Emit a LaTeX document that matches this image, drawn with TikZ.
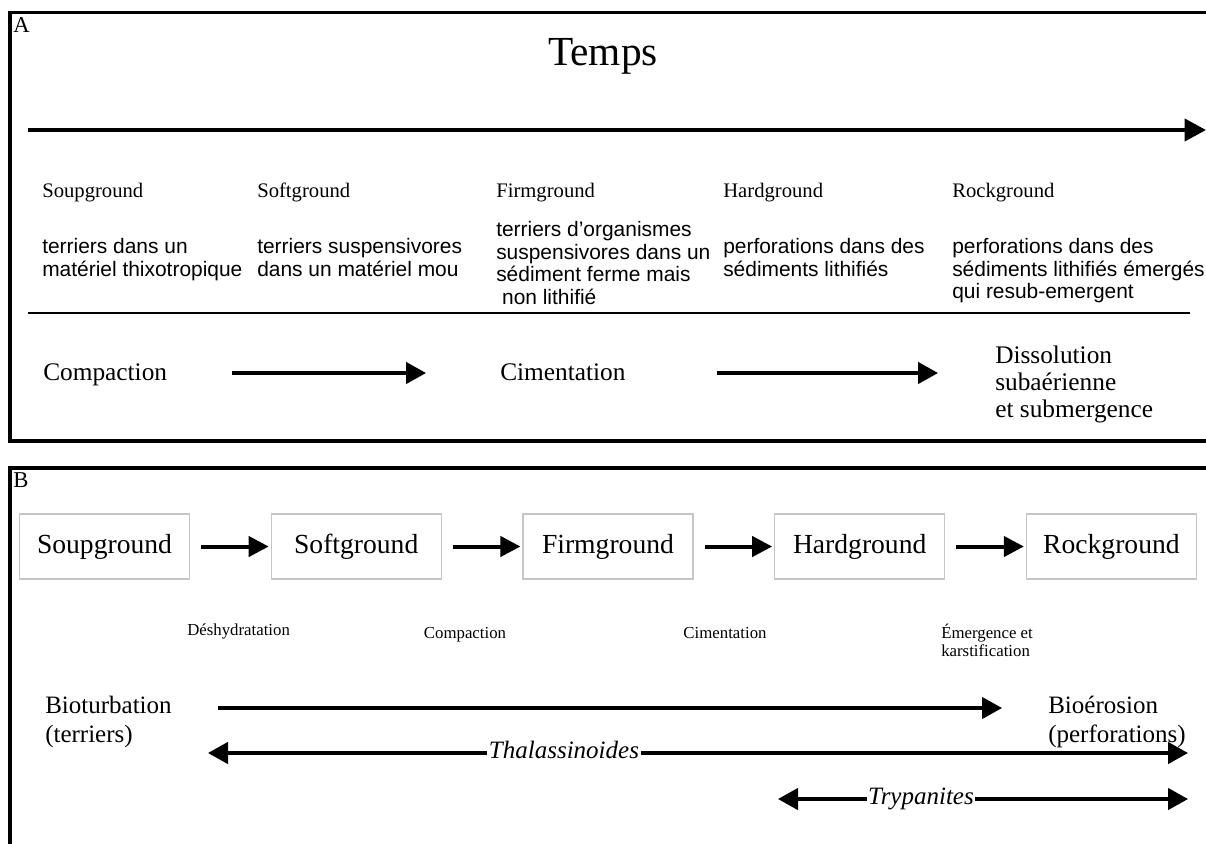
\documentclass[tikz,border=0pt]{standalone}
\usepackage{fontspec}
\setmainfont{Liberation Serif}
\setsansfont{Liberation Sans}
\usepackage{tikz}
\usetikzlibrary{arrows.meta, calc, positioning}

\begin{document}
\begin{tikzpicture}[x=0.75pt, y=-0.75pt]

% TikZ styles
\tikzset{
  rahmen/.style={line width=2.4pt},
  buchstabe/.style={inner sep=0pt, anchor=base west, font=\fontsize{17}{17}\selectfont},
  etikett/.style={inner sep=0pt, anchor=base west, font=\fontsize{15.5}{17}\selectfont},
  beschreibung/.style={inner sep=0pt, anchor=north west, align=left, font=\sffamily\fontsize{15.7}{17}\selectfont},
  prozess/.style={inner sep=0pt, anchor=base west, font=\fontsize{19}{20.25}\selectfont},
  klein/.style={inner sep=0pt, anchor=base, font=\fontsize{12.6}{13.5}\selectfont},
  bio/.style={inner sep=0pt, anchor=north west, align=left, font=\fontsize{18.75}{21.75}\selectfont},
  stufe/.style={rectangle, draw=gray!45, line width=0.8pt, minimum width=127.5pt, minimum height=48.75pt, inner sep=0pt, font=\fontsize{20.7}{22}\selectfont},
  taxon/.style={inner sep=1pt, text height=12.75pt, text depth=4.1pt, font=\itshape\fontsize{18.75}{20}\selectfont},
  arrow/.style={-{Triangle[length=15pt, width=16pt]}, line width=2.6pt},
  kurzpfeil/.style={-{Triangle[length=15pt, width=15pt]}, line width=3pt, shorten <=8.25pt, shorten >=1.5pt}
}

\useasboundingbox (0,0) rectangle (1206,843);
\clip (0,0) rectangle (1206,843);

%==========================
% Teil A
%==========================
\draw[rahmen] (1215,12.7) -- (10,12.7) -- (10,441) -- (1215,441);
\node[buchstabe] (labelA) at (13,32) {A};

\node[inner sep=0pt, anchor=base, font=\fontsize{31}{31}\selectfont] (temps) at (603,65) {Temps};
\coordinate (zeitL) at (28,130);
\coordinate (zeitR) at (1206,130);
\draw[arrow, line width=3pt, -{Triangle[length=16pt, width=16.5pt]}] (zeitL) -- (zeitR);

% --- Stufen ---
\node[etikett] (soupA) at (42,197) {Soupground};
\node[etikett] (softA) at (257,197) {Softground};
\node[etikett] (firmA) at (496,197) {Firmground};
\node[etikett] (hardA) at (723,197) {Hardground};
\node[etikett] (rockA) at (952,197) {Rockground};

% --- Beschreibungen ---
\node[beschreibung] (soupD) at (42,238) {terriers dans un\\matériel thixotropique};
\node[beschreibung] (softD) at (257,238) {terriers suspensivores\\dans un matériel mou};
\node[beschreibung] (firmD) at (496,221) {terriers d’organismes\\suspensivores dans un\\sédiment ferme mais\\\hspace*{0.28em}non lithifié};
\node[beschreibung] (hardD) at (723,238) {perforations dans des\\sédiments lithifiés};
\node[beschreibung] (rockD) at (952,238) {perforations dans des\\sédiments lithifiés émergés\\qui resub-emergent};

\coordinate (linieL) at (28,313);
\coordinate (linieR) at (1190,313);
\draw[line width=1.5pt] (linieL) -- (linieR);

% --- Prozesse ---
\node[prozess] (compA) at (43,380) {Compaction};
\node[prozess] (cimA) at (500,380) {Cimentation};
\node[prozess, anchor=north west, align=left] (dissA) at (995,346) {Dissolution\\subaérienne\\et submergence};

\draw[arrow] ($(compA.base east)+(65,-7)$) -- ($(cimA.base west)+(-74,-7)$);
\draw[arrow] ($(cimA.base east)+(91,-7)$) -- ($(dissA.west |- cimA.base)+(-57,-7)$);

%==========================
% Teil B
%==========================
\draw[rahmen] (1215,468) -- (10,468) -- (10,850);
\node[buchstabe] (labelB) at (13,487) {B};

% --- Kaesten ---
\node[stufe] (soupB) at (104.5,546.5) {Soupground};
\node[stufe, right=60.5pt of soupB] (softB) {Softground};
\node[stufe, right=60.5pt of softB] (firmB) {Firmground};
\node[stufe, right=60.5pt of firmB] (hardB) {Hardground};
\node[stufe, right=60.5pt of hardB] (rockB) {Rockground};

\draw[kurzpfeil] (soupB) -- (softB);
\draw[kurzpfeil] (softB) -- (firmB);
\draw[kurzpfeil] (firmB) -- (hardB);
\draw[kurzpfeil] (hardB) -- (rockB);

\node[klein, anchor=base west] (dehyd) at (187,635) {Déshydratation};
\node[klein] (compB) at (465,638) {Compaction};
\node[klein] (cimB) at (725,638) {Cimentation};
\node[klein, anchor=north west, align=left] (emerg) at (941,624) {Émergence et\\karstification};

% --- Bioturbation / Bioerosion ---
\node[bio] (bioT) at (45,696) {Bioturbation\\(terriers)};
\node[bio] (bioE) at (1048,696) {Bioérosion\\(perforations)};
\draw[arrow] ($(bioT.north east)+(46,12)$) -- ($(bioE.north west)+(-46,12)$);

\coordinate (thalL) at (208,753);
\coordinate (thalR) at (1188,753);
\node[taxon] (thal) at (564,753) {Thalassinoides};
\draw[arrow] (thal) -- (thalL);
\draw[arrow] (thal) -- (thalR);

\coordinate (trypL) at (778,799);
\coordinate (trypR) at (1188,799);
\node[taxon] (tryp) at (921,799) {Trypanites};
\draw[arrow] (tryp) -- (trypL);
\draw[arrow] (tryp) -- (trypR);

\end{tikzpicture}
\end{document}
